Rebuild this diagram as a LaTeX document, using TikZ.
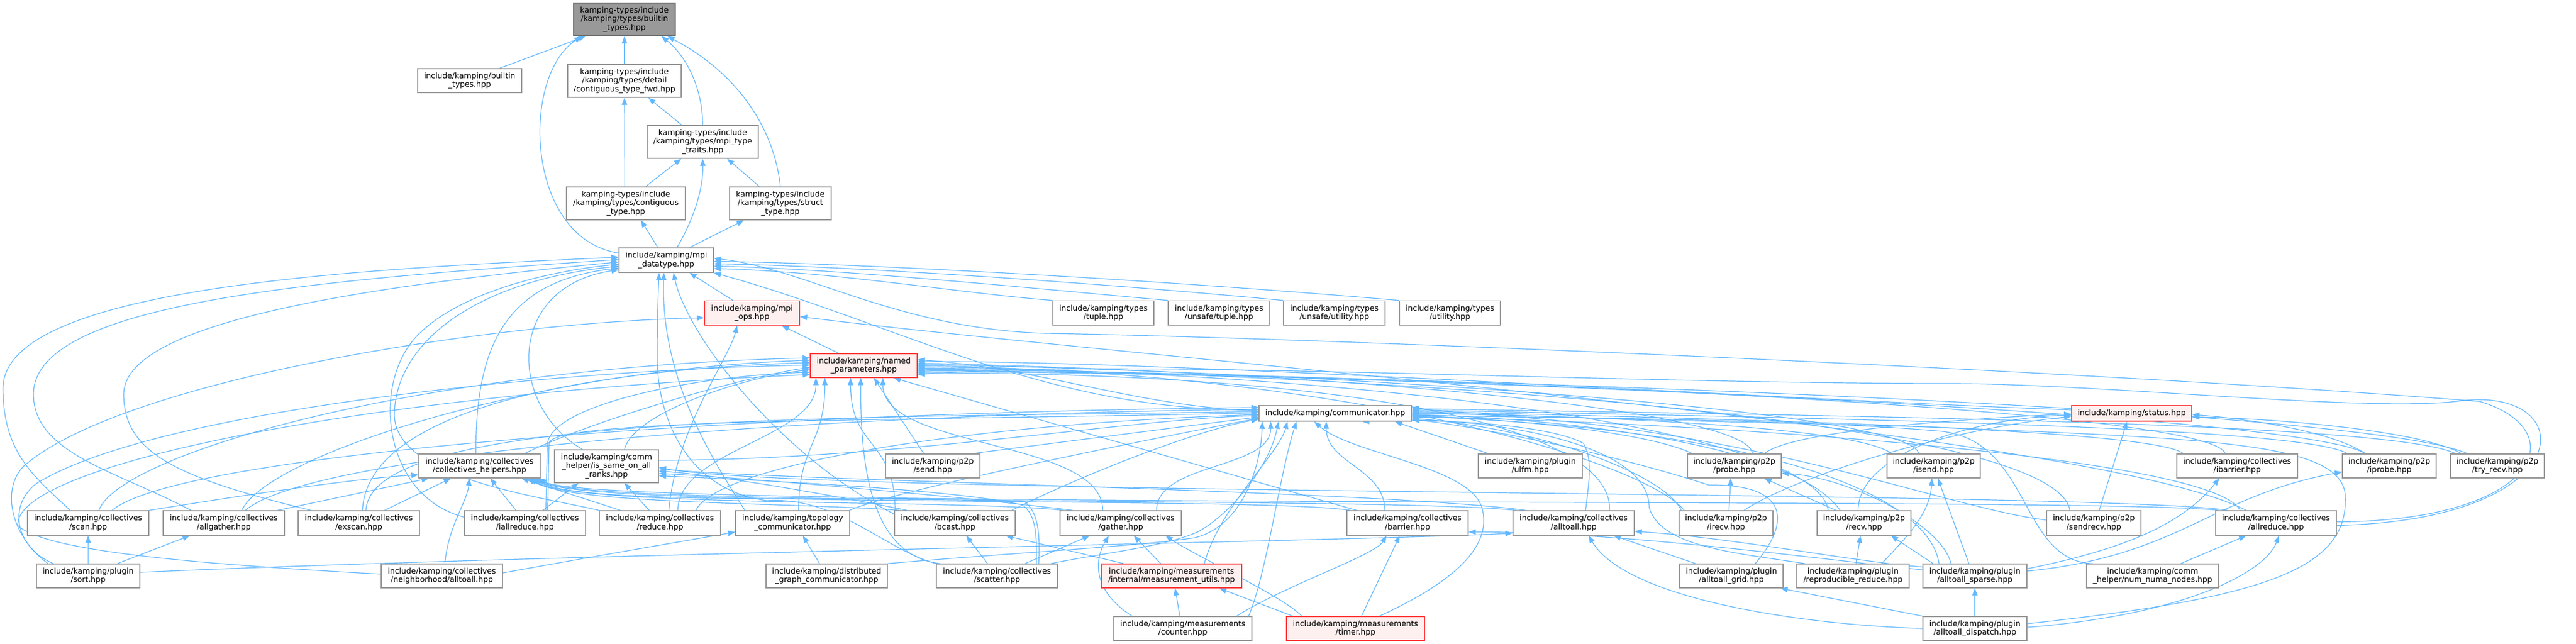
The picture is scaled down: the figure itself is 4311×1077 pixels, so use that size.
\documentclass[tikz,border=0pt]{standalone}
\usepackage{fontspec}
\setmainfont{DejaVu Sans}
\usetikzlibrary{arrows.meta}
\pgfdeclarelayer{edges}
\pgfsetlayers{edges,main}
\definecolor{eb}{HTML}{63B8FF}
\definecolor{nb}{HTML}{999999}
\definecolor{rb}{HTML}{FF4040}
\definecolor{rf}{HTML}{FFF0F0}
\definecolor{gf}{HTML}{999999}
\definecolor{gb}{HTML}{666666}
\tikzset{
  box/.style={draw=nb, line width=1.4pt, fill=white, inner sep=0pt, align=center, text=black, font=\fontsize{13}{14.6}\selectfont},
  redbox/.style={box, draw=rb, fill=rf},
  graybox/.style={box, draw=gb, fill=gf},
  dep/.style={draw=eb, line width=1.2pt, -{Triangle[length=12pt,width=9pt]}},
}
\newcommand\N[7][]{\node[box,#1,minimum width=#5,minimum height=#6] (#2) at (#3,#4) {#7};}
\newcommand\E[5]{\draw[dep] ([xshift=#2]#1.north) .. controls +(0,-#5) and +(0,#5) .. ([xshift=#4]#3.south);}
\begin{document}
\begin{tikzpicture}[x=1pt,y=-1pt]
\useasboundingbox (0,0) rectangle (4311,1077);
% ---------------- nodes ----------------
\N[graybox]{builtin}{1045}{32.5}{170}{55}{kamping-types/include\\/kamping/types/builtin\\\_types.hpp}
\N{incbuiltin}{786}{135}{174}{40}{include/kamping/builtin\\\_types.hpp}
\N{ctfwd}{1045}{135.5}{190}{55}{kamping-types/include\\/kamping/types/detail\\/contiguous\_type\_fwd.hpp}
\N{mpitt}{1176}{237.5}{186}{55}{kamping-types/include\\/kamping/types/mpi\_type\\\_traits.hpp}
\N{ctype}{1047.5}{340.5}{199}{55}{kamping-types/include\\/kamping/types/contiguous\\\_type.hpp}
\N{structtype}{1306}{340.5}{170}{55}{kamping-types/include\\/kamping/types/struct\\\_type.hpp}
\N{mpidt}{1115}{435.5}{158}{41}{include/kamping/mpi\\\_datatype.hpp}
\N[redbox]{mpiops}{1258.5}{524}{159}{41}{include/kamping/mpi\\\_ops.hpp}
\N{tuple}{1846.5}{524}{169}{41}{include/kamping/types\\/tuple.hpp}
\N{unsafetuple}{2040}{524}{170}{41}{include/kamping/types\\/unsafe/tuple.hpp}
\N{unsafeutility}{2233}{524}{170}{41}{include/kamping/types\\/unsafe/utility.hpp}
\N{utility}{2426.5}{524}{169}{41}{include/kamping/types\\/utility.hpp}
\N[redbox]{namedparams}{1445.5}{612}{179}{40}{include/kamping/named\\\_parameters.hpp}
\N{comm}{2234.5}{692}{255}{26}{include/kamping/communicator.hpp}
\N[redbox]{status}{3567.5}{692}{201}{26}{include/kamping/status.hpp}
% row 8
\N{collhelpers}{802.5}{780}{203}{40}{include/kamping/collectives\\/collectives\_helpers.hpp}
\N{issame}{1015}{780.5}{174}{55}{include/kamping/comm\\\_helper/is\_same\_on\_all\\\_ranks.hpp}
\N{send}{1561}{780}{158}{40}{include/kamping/p2p\\/send.hpp}
\N{ulfm}{2561}{780}{174}{40}{include/kamping/plugin\\/ulfm.hpp}
\N{probe}{2902.5}{780}{157}{40}{include/kamping/p2p\\/probe.hpp}
\N{isend}{3236}{780}{156}{40}{include/kamping/p2p\\/isend.hpp}
\N{ibarrier}{3744}{780}{202}{40}{include/kamping/collectives\\/ibarrier.hpp}
\N{iprobe}{3998.5}{780}{157}{40}{include/kamping/p2p\\/iprobe.hpp}
\N{tryrecv}{4179.5}{780}{157}{40}{include/kamping/p2p\\/try\_recv.hpp}
% row 9
\N{scan}{147.5}{875.5}{203}{41}{include/kamping/collectives\\/scan.hpp}
\N{allgather}{374.5}{875.5}{203}{41}{include/kamping/collectives\\/allgather.hpp}
\N{exscan}{600.5}{875.5}{203}{41}{include/kamping/collectives\\/exscan.hpp}
\N{iallreduce}{878.5}{875.5}{203}{41}{include/kamping/collectives\\/iallreduce.hpp}
\N{reduce}{1104.5}{875.5}{203}{41}{include/kamping/collectives\\/reduce.hpp}
\N{topocomm}{1326.5}{875.5}{191}{41}{include/kamping/topology\\\_communicator.hpp}
\N{bcast}{1598}{875.5}{202}{41}{include/kamping/collectives\\/bcast.hpp}
\N{gather}{1875.5}{875.5}{203}{41}{include/kamping/collectives\\/gather.hpp}
\N{barrier}{2355.5}{875.5}{203}{41}{include/kamping/collectives\\/barrier.hpp}
\N{alltoall}{2633.5}{875.5}{203}{41}{include/kamping/collectives\\/alltoall.hpp}
\N{irecv}{2888.5}{875.5}{157}{41}{include/kamping/p2p\\/irecv.hpp}
\N{recv}{3119.5}{875.5}{157}{41}{include/kamping/p2p\\/recv.hpp}
\N{sendrecv}{3504}{875.5}{158}{41}{include/kamping/p2p\\/sendrecv.hpp}
\N{allreduce}{3809}{875.5}{202}{41}{include/kamping/collectives\\/allreduce.hpp}
% row 10
\N{sort}{147.5}{964}{173}{40}{include/kamping/plugin\\/sort.hpp}
\N{nbalt}{739.5}{964}{203}{40}{include/kamping/collectives\\/neighborhood/alltoall.hpp}
\N{distgraph}{1383.5}{964}{203}{40}{include/kamping/distributed\\\_graph\_communicator.hpp}
\N{scatter}{1668.5}{964}{203}{40}{include/kamping/collectives\\/scatter.hpp}
\N[redbox]{measutils}{1960.5}{964}{235}{40}{include/kamping/measurements\\/internal/measurement\_utils.hpp}
\N{alltoallgrid}{2897.5}{964}{173}{40}{include/kamping/plugin\\/alltoall\_grid.hpp}
\N{reprod}{3101}{964}{188}{40}{include/kamping/plugin\\/reproducible\_reduce.hpp}
\N{alltoallsparse}{3305}{964}{174}{40}{include/kamping/plugin\\/alltoall\_sparse.hpp}
\N{numa}{3602.5}{964}{221}{40}{include/kamping/comm\\\_helper/num\_numa\_nodes.hpp}
% row 11
\N{counter}{1979.5}{1052}{231}{40}{include/kamping/measurements\\/counter.hpp}
\N[redbox]{timer}{2268.5}{1052}{231}{40}{include/kamping/measurements\\/timer.hpp}
\N{alltoalldispatch}{3305}{1052}{174}{40}{include/kamping/plugin\\/alltoall\_dispatch.hpp}
% ---------------- edges ----------------
\begin{pgfonlayer}{edges}
\fill[white] (0,0) rectangle (4311,1077);
% top part
\draw[dep] ([xshift=50]incbuiltin.north) -- ([xshift=-65]builtin.south);
\draw[dep] (ctfwd.north) -- (builtin.south);
\draw[dep] (mpitt.north) .. controls (1176,150) and (1150,95) .. ([xshift=62]builtin.south);
\draw[dep] (structtype.north) .. controls (1295,210) and (1230,120) .. ([xshift=72]builtin.south);
\draw[dep] ([yshift=12]mpidt.west) .. controls (880,400) and (870,130) .. ([xshift=-72]builtin.south);
\draw[dep] ([xshift=-2]ctype.north) -- (ctfwd.south);
\draw[dep] ([xshift=-35]mpitt.north) -- ([xshift=40]ctfwd.south);
\draw[dep] ([xshift=33]ctype.north) -- ([xshift=-36]mpitt.south);
\draw[dep] ([xshift=-35]structtype.north) -- ([xshift=41]mpitt.south);
\draw[dep] ([xshift=18]mpidt.north) .. controls (1165,360) and (1177,310) .. (mpitt.south);
\draw[dep] ([xshift=-14]mpidt.north) -- ([xshift=25]ctype.south);
\draw[dep] ([xshift=39]mpidt.north) -- ([xshift=-61]structtype.south);
% into mpi_datatype
\draw[dep] ([xshift=-32]mpiops.north) -- ([xshift=39]mpidt.south);
\draw[dep] (tuple.north west) .. controls (1600,490) and (1400,455) .. ([yshift=-14]mpidt.east);
\draw[dep] (unsafetuple.north west) .. controls (1700,480) and (1400,450) .. ([yshift=-10]mpidt.east);
\draw[dep] (unsafeutility.north west) .. controls (1800,470) and (1400,445) .. ([yshift=-6]mpidt.east);
\draw[dep] (utility.north west) .. controls (1900,465) and (1400,440) .. ([yshift=-2]mpidt.east);
\draw[dep] ([yshift=6]comm.west) .. controls (1750,690) and (1500,540) .. (mpidt.south east);
\draw[dep] ([yshift=2]allreduce.east) .. controls (4250,872) and (4310,720) .. (4150,672) .. controls (3500,620) and (2200,565) .. (1750,558) .. controls (1500,550) and (1350,450) .. ([yshift=3]mpidt.east);
\draw[dep] ([xshift=-30]scan.north) .. controls (60,800) and (5,760) .. (5,650) .. controls (5,480) and (600,450) .. ([yshift=5]mpidt.west);
\draw[dep] ([xshift=-55]allgather.north) .. controls (200,790) and (56,760) .. (56,660) .. controls (56,510) and (500,470) .. ([yshift=1]mpidt.west);
\draw[dep] ([xshift=-80]exscan.north) .. controls (300,800) and (207,760) .. (207,660) .. controls (207,540) and (600,480) .. ([yshift=-3]mpidt.west);
\draw[dep] ([yshift=10]iallreduce.west) .. controls (640,830) and (620,640) .. (700,560) .. controls (780,480) and (950,450) .. ([yshift=-7]mpidt.west);
\draw[dep] (reduce.north west) .. controls (900,830) and (655,800) .. (660,690) .. controls (665,570) and (800,470) .. ([yshift=-10]mpidt.west);
\draw[dep] ([xshift=-6]collhelpers.north) .. controls (795,560) and (860,470) .. ([yshift=-13]mpidt.west);
\draw[dep] ([xshift=-40]issame.north) .. controls (850,680) and (845,480) .. ([yshift=-16]mpidt.west);
\draw[dep] ([yshift=15]bcast.west) .. controls (1300,760) and (1150,560) .. ([xshift=12]mpidt.south);
\draw[dep] (scatter.north west) .. controls (1480,920) and (1400,830) .. (1283,838) .. controls (1150,820) and (1100,700) .. (1100,600) .. controls (1100,520) and (1102,480) .. ([xshift=-12]mpidt.south);
\draw[dep] ([xshift=-80]topocomm.north) .. controls (1200,780) and (1105,640) .. ([xshift=-4]mpidt.south);
% into mpi_ops
\draw[dep] ([xshift=-42]namedparams.north) -- ([xshift=50]mpiops.south);
\draw[dep] ([xshift=15]reduce.north) .. controls (1130,720) and (1220,600) .. ([xshift=-25]mpiops.south);
\draw[dep] ([xshift=-67]sort.north) .. controls (20,900) and (0,820) .. (40,780) .. controls (200,640) and (800,540) .. ([yshift=-8]mpiops.west);
\draw[dep] ([xshift=-50]allreduce.north) .. controls (3500,720) and (1900,600) .. ([yshift=-6]mpiops.east);
% into named_parameters (west)
\draw[dep] ([xshift=18]scan.north) .. controls (200,760) and (700,615) .. ([yshift=13]namedparams.west);
\draw[dep] ([xshift=30]allgather.north) .. controls (450,760) and (900,618) .. ([yshift=9]namedparams.west);
\draw[dep] ([xshift=6]exscan.north) .. controls (615,680) and (1000,618) .. ([yshift=5]namedparams.west);
\draw[dep] ([xshift=-58]sort.north) .. controls (30,920) and (10,850) .. (60,810) .. controls (250,690) and (900,620) .. ([yshift=1]namedparams.west);
\draw[dep] ([xshift=75]collhelpers.north) .. controls (1000,700) and (1250,630) .. ([yshift=-3]namedparams.west);
\draw[dep] ([xshift=30]issame.north) .. controls (1060,690) and (1250,630) .. ([yshift=-7]namedparams.west);
\draw[dep] ([xshift=35]iallreduce.north) .. controls (915,800) and (915,770) .. (916,745) .. controls (918,680) and (1150,630) .. ([yshift=-11]namedparams.west);
\draw[dep] ([yshift=3]nbalt.west) .. controls (350,945) and (80,925) .. (30,880) .. controls (20,780) and (600,660) .. ([yshift=-15]namedparams.west);
% into named_parameters (south)
\E{reduce}{30}{namedparams}{-80}{100}
\E{topocomm}{10}{namedparams}{-65}{110}
\E{bcast}{-100}{namedparams}{-22}{120}
\draw[dep] ([xshift=-95]scatter.north) .. controls (1450,930) and (1440,760) .. ([xshift=-5]namedparams.south);
\draw[dep] ([xshift=-15]send.north) -- ([xshift=17]namedparams.south);
\E{gather}{-30}{namedparams}{32}{120}
\draw[dep] ([xshift=-85]barrier.north) -- ([xshift=50]namedparams.south);
% into named_parameters (east)
\draw[dep] ([yshift=4]comm.west) .. controls (1900,680) and (1750,618) .. ([yshift=10]namedparams.east);
\draw[dep] ([yshift=6]status.west) .. controls (3000,670) and (2000,605) .. ([yshift=7]namedparams.east);
\draw[dep] ([xshift=30]probe.north) .. controls (2930,690) and (2300,625) .. ([yshift=4]namedparams.east);
\draw[dep] ([xshift=-25]isend.north) .. controls (3200,690) and (2300,625) .. ([yshift=2]namedparams.east);
\draw[dep] ([xshift=-70]irecv.north) .. controls (2760,780) and (2300,625) .. ([yshift=0]namedparams.east);
\draw[dep] ([xshift=-60]recv.north) .. controls (3040,720) and (2300,625) .. ([yshift=-2]namedparams.east);
\draw[dep] ([xshift=-40]sendrecv.north) .. controls (3440,700) and (2300,625) .. ([yshift=-4]namedparams.east);
\draw[dep] ([xshift=-20]ibarrier.north) .. controls (3700,680) and (2300,625) .. ([yshift=-6]namedparams.east);
\draw[dep] ([xshift=-40]iprobe.north) .. controls (3850,690) and (2300,625) .. ([yshift=-8]namedparams.east);
\draw[dep] ([xshift=-50]tryrecv.north) .. controls (3950,680) and (2300,625) .. ([yshift=-10]namedparams.east);
\draw[dep] ([xshift=60]alltoall.north) .. controls (2700,720) and (2300,625) .. ([yshift=-12]namedparams.east);
\draw[dep] ([yshift=-4]allreduce.east) .. controls (4330,870) and (4320,640) .. (4110,672) .. controls (3950,690) and (3500,640) .. (3240,642) .. controls (2600,640) and (1900,600) .. ([yshift=-15]namedparams.east);
% into communicator (west)
\draw[dep] ([xshift=40]scan.north) .. controls (300,760) and (1200,692) .. ([yshift=10]comm.west);
\draw[dep] ([xshift=36]allgather.north) .. controls (520,760) and (1300,695) .. ([yshift=7]comm.west);
\draw[dep] ([xshift=12]exscan.north) .. controls (620,690) and (1400,700) .. ([yshift=3]comm.west);
\draw[dep] ([xshift=38]iallreduce.north) .. controls (918,800) and (918,770) .. (919,742) .. controls (921,700) and (1500,705) .. ([yshift=1]comm.west);
\draw[dep] ([xshift=60]reduce.north) .. controls (1200,780) and (1600,710) .. ([yshift=-2]comm.west);
\draw[dep] ([yshift=10]issame.east) .. controls (1500,770) and (1900,700) .. ([yshift=-4]comm.west);
\draw[dep] ([xshift=65]send.north) -- ([yshift=-6]comm.west);
\draw[dep] ([xshift=95]topocomm.north) .. controls (1500,820) and (1900,740) .. ([yshift=-8]comm.west);
\draw[dep] ([xshift=95]bcast.north) .. controls (1800,800) and (2000,720) .. ([yshift=-10]comm.west);
% into communicator (south)
\draw[dep] (distgraph.north east) .. controls (1700,925) and (1900,915) .. (2000,900) .. controls (2080,880) and (2110,780) .. ([xshift=-122]comm.south);
\E{gather}{60}{comm}{-108}{80}
\draw[dep] ([xshift=90]scatter.north) .. controls (1850,925) and (1950,915) .. (2005,890) .. controls (2060,860) and (2125,780) .. ([xshift=-95]comm.south);
\draw[dep] ([xshift=55]measutils.north) .. controls (2040,850) and (2140,760) .. ([xshift=-80]comm.south);
\draw[dep] ([xshift=110]counter.north) .. controls (2120,960) and (2140,800) .. ([xshift=-65]comm.south);
\draw[dep] ([xshift=40]timer.north) .. controls (2420,980) and (2500,920) .. (2480,850) .. controls (2460,780) and (2260,760) .. ([xshift=-35]comm.south);
\E{barrier}{-38}{comm}{-15}{70}
\draw[dep] ([xshift=20]alltoall.north) .. controls (2660,800) and (2665,770) .. (2650,742) .. controls (2600,715) and (2450,700) .. ([xshift=45]comm.south);
\draw[dep] ([xshift=-70]ulfm.north) -- ([xshift=100]comm.south);
% into communicator (east)
\draw[dep] ([xshift=-70]probe.north) .. controls (2750,720) and (2500,700) .. ([yshift=-4]comm.east);
\draw[dep] ([xshift=-75]irecv.north) .. controls (2790,800) and (2600,720) .. ([yshift=-8]comm.east);
\draw[dep] ([xshift=-40]recv.north) .. controls (3000,740) and (2600,700) .. ([yshift=-2]comm.east);
\draw[dep] ([xshift=-70]isend.north) .. controls (3100,710) and (2600,695) .. ([yshift=0]comm.east);
\draw[dep] ([yshift=5]sendrecv.west) .. controls (3250,850) and (2900,700) .. ([yshift=2]comm.east);
\draw[dep] ([xshift=-90]ibarrier.north) .. controls (3600,715) and (2800,700) .. ([yshift=4]comm.east);
\draw[dep] ([xshift=-70]iprobe.north) .. controls (3850,710) and (2900,698) .. ([yshift=6]comm.east);
\draw[dep] ([xshift=-70]tryrecv.north) .. controls (4000,705) and (3000,695) .. ([yshift=8]comm.east);
\draw[dep] ([xshift=-60]allreduce.north) .. controls (3700,760) and (2800,705) .. ([yshift=-6]comm.east);
\draw[dep] ([xshift=40]alltoallgrid.north) .. controls (3000,870) and (2990,810) .. (2860,812) .. controls (2700,760) and (2480,715) .. ([yshift=-10]comm.east);
\draw[dep] ([xshift=-80]reprod.north) .. controls (2900,925) and (2780,915) .. (2760,850) .. controls (2760,740) and (2500,705) .. ([yshift=-11]comm.east);
\draw[dep] ([xshift=-60]alltoallsparse.north) .. controls (3230,840) and (3000,720) .. ([yshift=-5]comm.east);
\draw[dep] ([xshift=-100]numa.north) .. controls (3380,940) and (3400,740) .. (3250,722) .. controls (3000,700) and (2600,700) .. ([yshift=-3]comm.east);
\draw[dep] ([yshift=8]alltoalldispatch.east) .. controls (3800,1000) and (3930,950) .. (3925,830) .. controls (3920,740) and (3700,735) .. (3240,715) .. controls (2900,705) and (2500,700) .. ([yshift=10]comm.east);
% into status
\draw[dep] ([xshift=30]irecv.north) .. controls (3000,800) and (3250,720) .. ([yshift=-5]status.west);
\draw[dep] ([xshift=-10]recv.north) .. controls (3110,760) and (3300,700) .. ([yshift=-3]status.west);
\draw[dep] ([xshift=50]probe.north) .. controls (3000,720) and (3300,700) .. ([yshift=-1]status.west);
\draw[dep] ([xshift=9]sendrecv.north) -- ([xshift=-8]status.south);
\draw[dep] ([xshift=-40]iprobe.north) .. controls (3900,720) and (3750,700) .. ([yshift=-2]status.east);
\draw[dep] ([xshift=-60]tryrecv.north) .. controls (4050,720) and (3800,700) .. ([yshift=-6]status.east);
% into collectives_helpers
\draw[dep] (scan.north east) .. controls (400,830) and (600,800) .. ([yshift=-15]collhelpers.west);
\draw[dep] ([xshift=90]allgather.north) -- ([xshift=-85]collhelpers.south);
\draw[dep] ([xshift=43]exscan.north) -- ([xshift=-48]collhelpers.south);
\draw[dep] ([xshift=5]nbalt.north) .. controls (750,880) and (782,840) .. ([xshift=-17]collhelpers.south);
\draw[dep] ([xshift=-15]iallreduce.north) -- ([xshift=18]collhelpers.south);
\draw[dep] ([xshift=-66]reduce.north) -- ([xshift=70]collhelpers.south);
\draw[dep] ([xshift=-90]bcast.north) .. controls (1300,840) and (960,845) .. ([xshift=80]collhelpers.south);
\draw[dep] ([xshift=-95]gather.north) .. controls (1600,835) and (965,850) .. ([xshift=84]collhelpers.south);
\draw[dep] ([xshift=70]scatter.north) .. controls (1740,900) and (1740,860) .. (1715,840) .. controls (1550,825) and (980,852) .. ([xshift=88]collhelpers.south);
\draw[dep] ([xshift=-95]barrier.north) .. controls (2100,830) and (980,852) .. ([xshift=92]collhelpers.south);
\draw[dep] ([xshift=-95]alltoall.north) .. controls (2300,830) and (980,850) .. ([xshift=96]collhelpers.south);
\draw[dep] ([xshift=-95]allreduce.north) .. controls (3500,830) and (990,855) .. ([xshift=100]collhelpers.south);
% into is_same_on_all_ranks
\draw[dep] ([xshift=30]iallreduce.north) -- ([xshift=-47]issame.south);
\draw[dep] ([xshift=-18]reduce.north) -- ([xshift=30]issame.south);
\draw[dep] ([xshift=-80]bcast.north) .. controls (1400,830) and (1200,795) .. ([yshift=-8]issame.east);
\draw[dep] ([xshift=-80]gather.north) .. controls (1600,830) and (1250,800) .. ([yshift=-12]issame.east);
\draw[dep] ([xshift=66]scatter.north) .. controls (1735,900) and (1735,860) .. (1710,845) .. controls (1600,820) and (1300,805) .. ([yshift=-16]issame.east);
\draw[dep] ([xshift=-80]alltoall.north) .. controls (2300,820) and (1300,805) .. ([yshift=-4]issame.east);
\draw[dep] ([xshift=-80]allreduce.north) .. controls (3500,820) and (1350,830) .. ([yshift=-2]issame.east);
% lower layers
\draw[dep] (sort.north) -- (scan.south);
\draw[dep] ([xshift=49]sort.north) -- ([xshift=-57]allgather.south);
\draw[dep] ([yshift=6]sort.east) .. controls (900,928) and (2300,905) .. ([yshift=-17]alltoall.west);
\draw[dep] ([yshift=5]nbalt.east) .. controls (1000,930) and (1150,905) .. ([yshift=-15]topocomm.west);
\draw[dep] ([xshift=-12]distgraph.north) -- ([xshift=17]topocomm.south);
\draw[dep] ([xshift=-16]scatter.north) -- ([xshift=19]bcast.south);
\draw[dep] ([xshift=47]scatter.north) -- ([xshift=-52]gather.south);
\draw[dep] ([xshift=-18]measutils.north) -- ([xshift=22]gather.south);
\draw[dep] ([xshift=-80]measutils.north) -- ([xshift=85]bcast.south);
\draw[dep] ([xshift=-5]counter.north) -- ([xshift=6]measutils.south);
\draw[dep] ([xshift=-85]counter.north) .. controls (1830,990) and (1830,940) .. ([xshift=-20]gather.south);
\draw[dep] ([xshift=90]counter.north) .. controls (2150,980) and (2300,930) .. ([xshift=-35]barrier.south);
\draw[dep] ([xshift=-105]timer.north) -- ([xshift=80]measutils.south);
\draw[dep] ([xshift=-90]timer.north) .. controls (2150,1000) and (2000,930) .. ([xshift=75]gather.south);
\draw[dep] ([xshift=10]timer.north) -- ([xshift=-13]barrier.south);
\draw[dep] ([xshift=5]irecv.north) -- ([xshift=-6]probe.south);
\draw[dep] ([xshift=-47]recv.north) -- ([xshift=50]probe.south);
\draw[dep] ([xshift=-40]alltoallsparse.north) .. controls (3250,880) and (3100,800) .. ([yshift=-12]probe.east);
\draw[dep] ([xshift=-10]alltoallsparse.north) -- ([xshift=7]isend.south);
\draw[dep] ([xshift=48]reprod.north) .. controls (3190,900) and (3230,860) .. ([xshift=-3]isend.south);
\draw[dep] ([yshift=12]alltoallsparse.east) .. controls (3550,920) and (3650,880) .. ([xshift=-30]ibarrier.south);
\draw[dep] ([yshift=8]alltoallsparse.east) .. controls (3650,930) and (3700,830) .. ([yshift=-10]iprobe.west);
\draw[dep] ([xshift=-70]alltoallsparse.north) -- ([xshift=45]recv.south);
\draw[dep] ([xshift=5]reprod.north) -- ([xshift=-6]recv.south);
\draw[dep] ([yshift=15]alltoallsparse.west) .. controls (3100,940) and (2900,900) .. ([yshift=-14]alltoall.east);
\draw[dep] ([yshift=10]alltoallsparse.west) .. controls (3000,930) and (2700,890) .. ([yshift=-15]barrier.east);
\draw[dep] ([xshift=-60]alltoallgrid.north) -- ([xshift=67]alltoall.south);
\draw[dep] (alltoalldispatch.north west) -- ([xshift=-5]alltoallgrid.south east);
\draw[dep] (alltoalldispatch.west) .. controls (3000,1045) and (2720,1000) .. ([xshift=25]alltoall.south);
\draw[dep] (alltoalldispatch.north) -- (alltoallsparse.south);
\draw[dep] ([yshift=2]alltoalldispatch.east) .. controls (3650,1030) and (3790,960) .. ([xshift=5]allreduce.south);
\draw[dep] ([xshift=47]numa.north) -- ([xshift=-50]allreduce.south);
\end{pgfonlayer}
\end{tikzpicture}
\end{document}
